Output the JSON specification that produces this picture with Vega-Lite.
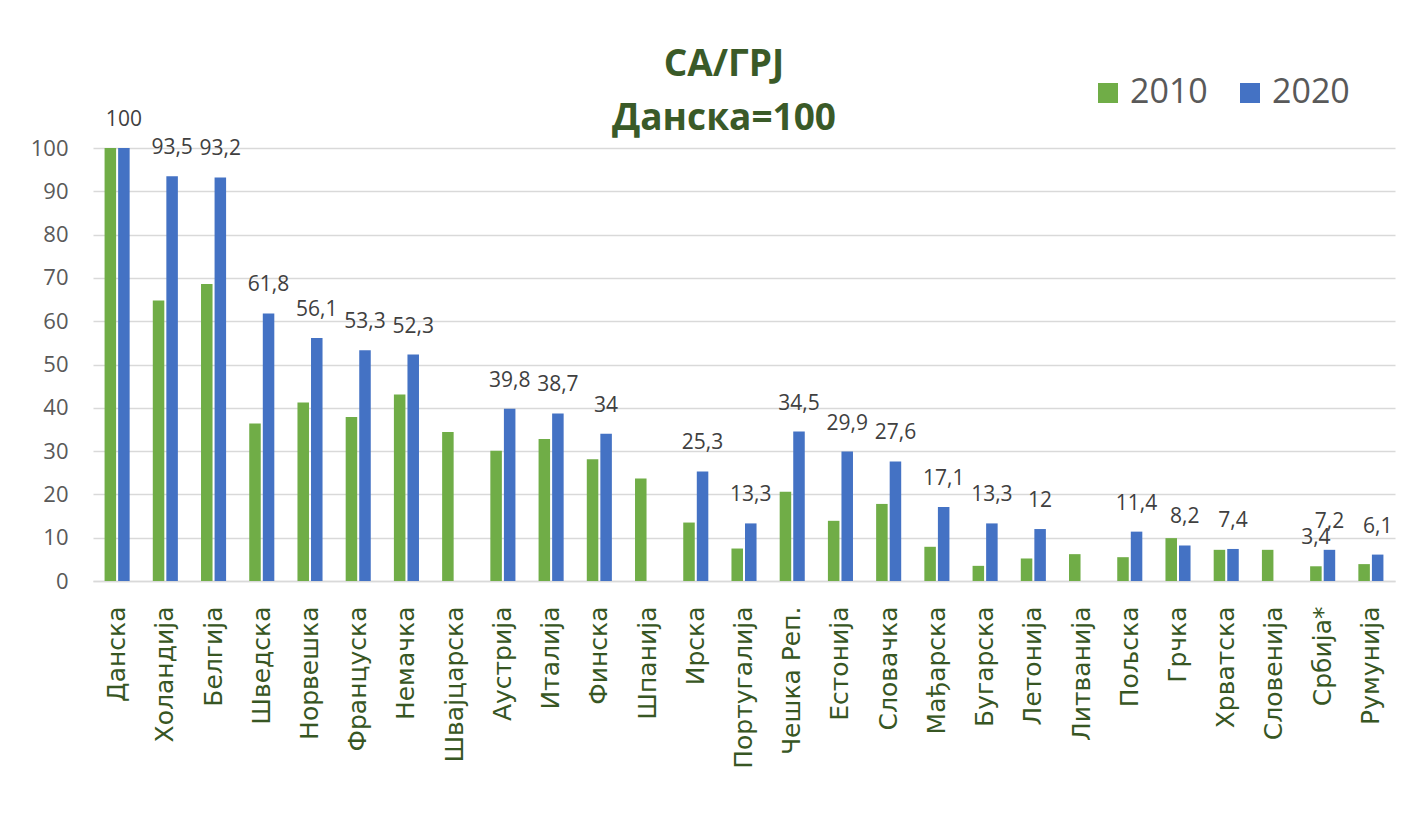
{
  "$schema": "https://vega.github.io/schema/vega-lite/v6.json",
  "autosize": "none",
  "width": 1302,
  "height": 433,
  "padding": {"left": 93, "top": 148, "right": 19, "bottom": 233},
  "background": "white",
  "config": {
    "view": {"stroke": null},
    "font": "Open Sans",
    "locale": {"number": {"decimal": ",", "thousands": ".", "grouping": [3], "currency": ["", " €"]}}
  },
  "title": {
    "text": ["СА/ГРЈ", "Данска=100"],
    "font": "Open Sans",
    "fontSize": 37,
    "fontWeight": "bold",
    "color": "#3a5a28",
    "anchor": "middle",
    "dx": -20,
    "lineHeight": 54,
    "offset": -62
  },
  "data": {
    "values": [
      {"country": "Данска", "year": "2010", "value": 100},
      {"country": "Данска", "year": "2020", "value": 100},
      {"country": "Холандија", "year": "2010", "value": 64.8},
      {"country": "Холандија", "year": "2020", "value": 93.5},
      {"country": "Белгија", "year": "2010", "value": 68.6},
      {"country": "Белгија", "year": "2020", "value": 93.2},
      {"country": "Шведска", "year": "2010", "value": 36.4},
      {"country": "Шведска", "year": "2020", "value": 61.8},
      {"country": "Норвешка", "year": "2010", "value": 41.2},
      {"country": "Норвешка", "year": "2020", "value": 56.1},
      {"country": "Француска", "year": "2010", "value": 37.9},
      {"country": "Француска", "year": "2020", "value": 53.3},
      {"country": "Немачка", "year": "2010", "value": 43.1},
      {"country": "Немачка", "year": "2020", "value": 52.3},
      {"country": "Швајцарска", "year": "2010", "value": 34.4},
      {"country": "Аустрија", "year": "2010", "value": 30.1},
      {"country": "Аустрија", "year": "2020", "value": 39.8},
      {"country": "Италија", "year": "2010", "value": 32.8},
      {"country": "Италија", "year": "2020", "value": 38.7},
      {"country": "Финска", "year": "2010", "value": 28.1},
      {"country": "Финска", "year": "2020", "value": 34},
      {"country": "Шпанија", "year": "2010", "value": 23.7},
      {"country": "Ирска", "year": "2010", "value": 13.5},
      {"country": "Ирска", "year": "2020", "value": 25.3},
      {"country": "Португалија", "year": "2010", "value": 7.5},
      {"country": "Португалија", "year": "2020", "value": 13.3},
      {"country": "Чешка Реп.", "year": "2010", "value": 20.6},
      {"country": "Чешка Реп.", "year": "2020", "value": 34.5},
      {"country": "Естонија", "year": "2010", "value": 13.9},
      {"country": "Естонија", "year": "2020", "value": 29.9},
      {"country": "Словачка", "year": "2010", "value": 17.8},
      {"country": "Словачка", "year": "2020", "value": 27.6},
      {"country": "Мађарска", "year": "2010", "value": 7.9},
      {"country": "Мађарска", "year": "2020", "value": 17.1},
      {"country": "Бугарска", "year": "2010", "value": 3.5},
      {"country": "Бугарска", "year": "2020", "value": 13.3},
      {"country": "Летонија", "year": "2010", "value": 5.2},
      {"country": "Летонија", "year": "2020", "value": 12},
      {"country": "Литванија", "year": "2010", "value": 6.2},
      {"country": "Пољска", "year": "2010", "value": 5.5},
      {"country": "Пољска", "year": "2020", "value": 11.4},
      {"country": "Грчка", "year": "2010", "value": 9.9},
      {"country": "Грчка", "year": "2020", "value": 8.2},
      {"country": "Хрватска", "year": "2010", "value": 7.2},
      {"country": "Хрватска", "year": "2020", "value": 7.4},
      {"country": "Словенија", "year": "2010", "value": 7.2},
      {"country": "Србија*", "year": "2010", "value": 3.4},
      {"country": "Србија*", "year": "2020", "value": 7.2},
      {"country": "Румунија", "year": "2010", "value": 3.9},
      {"country": "Румунија", "year": "2020", "value": 6.1}
    ]
  },
  "encoding": {
    "x": {
      "field": "country",
      "type": "nominal",
      "sort": null,
      "scale": {"paddingInner": 0.48, "paddingOuter": 0.24},
      "axis": {
        "title": null,
        "labelAngle": -90,
        "labelAlign": "right",
        "labelBaseline": "middle",
        "labelPadding": 25,
        "labelFontSize": 25,
        "labelColor": "#375623",
        "labelFont": "DejaVu Sans",
        "ticks": false,
        "domainColor": "#d9d9d9",
        "domainWidth": 1.5,
        "labelOverlap": false
      }
    },
    "xOffset": {"field": "year", "type": "nominal", "scale": {"paddingInner": 0.15}},
    "y": {
      "field": "value",
      "type": "quantitative",
      "scale": {"domain": [0, 100], "nice": false},
      "axis": {
        "title": null,
        "values": [0, 10, 20, 30, 40, 50, 60, 70, 80, 90, 100],
        "domain": false,
        "ticks": false,
        "labelPadding": 25,
        "labelFontSize": 22,
        "labelColor": "#595959",
        "gridColor": "#d9d9d9",
        "gridWidth": 1.5
      }
    }
  },
  "layer": [
    {
      "mark": {"type": "bar", "clip": false},
      "encoding": {
        "color": {
          "field": "year",
          "type": "nominal",
          "scale": {"domain": ["2010", "2020"], "range": ["#70ad47", "#4472c4"]},
          "legend": {
            "title": null,
            "orient": "none",
            "direction": "horizontal",
            "legendX": 998,
            "legendY": -72,
            "symbolType": "square",
            "symbolSize": 400,
            "symbolStrokeWidth": 0,
            "labelFontSize": 34,
            "labelFont": "Open Sans",
            "labelColor": "#595959",
            "labelOffset": 5,
            "columnPadding": 25
          }
        }
      }
    },
    {
      "transform": [{"filter": "datum.year == '2020' || datum.country == 'Србија*'"}],
      "mark": {"type": "text", "baseline": "middle", "dy": -28, "fontSize": 21, "color": "#404040", "font": "Open Sans"},
      "encoding": {
        "text": {"field": "value", "type": "quantitative", "format": ".1~f"}
      }
    }
  ]
}
